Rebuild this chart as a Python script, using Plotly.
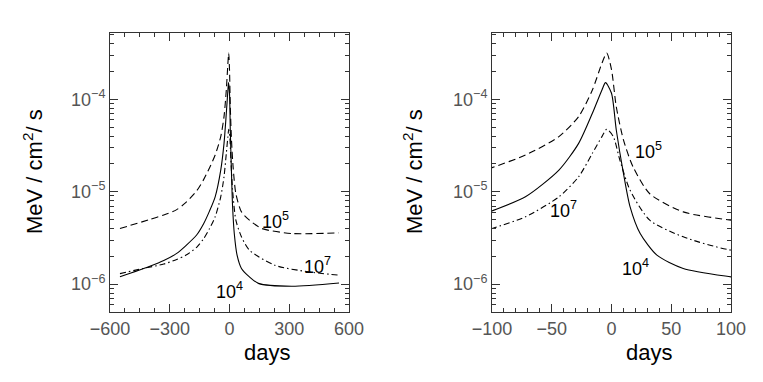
import numpy as np
import plotly.graph_objects as go

# ---- data ----
days_1e5 = [-550, -400, -330, -265, -220, -165, -130, -100, -72, -44, -27.5, -16, -8, -4, 0, 4, 10, 18, 32, 60, 100, 162, 313, 550]
flux_1e5 = [4.0e-6, 5.0e-6, 5.6e-6, 6.4e-6, 7.6e-6, 1.02e-5, 1.35e-5, 1.82e-5, 2.49e-5, 3.94e-5, 6.49e-5, 1.26e-4,
            2.45e-4, 3.16e-4, 2.09e-4, 8.3e-5, 3.63e-5, 1.86e-5, 9.5e-6, 6.05e-6, 4.92e-6, 4.0e-6, 3.53e-6, 3.59e-6]

days_1e4 = [-550, -400, -330, -265, -220, -165, -130, -100, -72, -44, -27.5, -16, -8, -5, 0, 4, 10, 15.5, 24, 38, 60, 100, 145, 312, 550]
flux_1e4 = [1.2e-6, 1.56e-6, 1.8e-6, 2.15e-6, 2.6e-6, 3.4e-6, 4.5e-6, 6.2e-6, 8.8e-6, 1.71e-5, 3.33e-5, 7.05e-5,
            1.26e-4, 1.51e-4, 1.16e-4, 4.65e-5, 1.58e-5, 6.9e-6, 3.53e-6, 2.06e-6, 1.48e-6, 1.2e-6, 1.02e-6, 9.5e-7, 1.03e-6]

days_1e7 = [-550, -433, -330, -265, -220, -165, -130, -100, -72, -44, -27.5, -16, -8, -4, 1.5, 7, 15.5, 32, 60, 100, 228, 396, 550]
flux_1e7 = [1.3e-6, 1.48e-6, 1.65e-6, 1.85e-6, 2.05e-6, 2.5e-6, 3.1e-6, 4.0e-6, 5.35e-6, 8.8e-6, 1.45e-5, 2.6e-5,
            3.94e-5, 4.73e-5, 3.94e-5, 2.2e-5, 1.04e-5, 4.92e-6, 3.25e-6, 2.33e-6, 1.6e-6, 1.36e-6, 1.25e-6]

ytick_vals = [1e-6, 1e-5, 1e-4]
ytick_text = ["10<sup>\u22126</sup>", "10<sup>\u22125</sup>", "10<sup>\u22124</sup>"]
xtick_left = [-600, -300, 0, 300, 600]
xtick_right = [-100, -50, 0, 50, 100]

# curve labels: (text, day, flux) per panel
labels_left = [("10<sup>5</sup>", 232, 4.9e-6), ("10<sup>7</sup>", 440, 1.6e-6), ("10<sup>4</sup>", 2, 8.6e-7)]
labels_right = [("10<sup>5</sup>", 31, 2.8e-5), ("10<sup>7</sup>", -40, 6.4e-6), ("10<sup>4</sup>", 20, 1.5e-6)]

series = [
    (days_1e4, flux_1e4, "solid"),
    (days_1e5, flux_1e5, "7px,4px"),
    (days_1e7, flux_1e7, "6px,3px,1.5px,3px"),
]

W, H = 763, 382
fig = go.Figure()

for ax in ["1", "2"]:
    xa = "x" if ax == "1" else "x2"
    ya = "y" if ax == "1" else "y2"
    for d, f, dash in series:
        fig.add_trace(go.Scatter(x=d, y=f, mode="lines", xaxis=xa, yaxis=ya,
                                 line=dict(color="black", width=1.1, dash=dash, shape="spline", smoothing=0.7),
                                 showlegend=False, hoverinfo="skip"))

tickfont = dict(family="Liberation Sans, Arial", size=18, color="#555555")
common_axis = dict(showline=True, linecolor="#333333", linewidth=1, mirror="allticks",
                   ticks="inside", ticklen=8, tickcolor="#333333", showgrid=False, zeroline=False,
                   tickfont=tickfont, automargin=False)

yd = [1 - 312 / H, 1 - 33 / H]
yr = [np.log10(5e-7), np.log10(5.2e-4)]
fig.update_layout(
    width=W, height=H, margin=dict(l=0, r=0, t=0, b=0),
    paper_bgcolor="white", plot_bgcolor="white",
    xaxis=dict(domain=[110 / W, 349 / W], range=[-600, 600], tickvals=xtick_left,
               ticktext=[str(v).replace("-", "\u2212") for v in xtick_left],
               minor=dict(ticks="inside", ticklen=4, dtick=75, tickcolor="#333333"), anchor="y", **common_axis),
    yaxis=dict(domain=yd, type="log", range=yr, tickvals=ytick_vals,
               ticktext=ytick_text, minor=dict(ticks="inside", ticklen=4, dtick="D1", tickcolor="#333333"),
               anchor="x", **common_axis),
    xaxis2=dict(domain=[492 / W, 731 / W], range=[-100, 100], tickvals=xtick_right,
                ticktext=[str(v).replace("-", "\u2212") for v in xtick_right],
                minor=dict(ticks="inside", ticklen=4, dtick=10, tickcolor="#333333"), anchor="y2", **common_axis),
    yaxis2=dict(domain=yd, type="log", range=yr, tickvals=ytick_vals,
                ticktext=ytick_text, minor=dict(ticks="inside", ticklen=4, dtick="D1", tickcolor="#333333"),
                anchor="x2", **common_axis),
)

titlefont = dict(family="Liberation Sans, Arial", size=22, color="black")
ann = []
for xc in [33, 413]:
    ann.append(dict(text="MeV / cm<sup>2</sup>/ s", x=xc / W, y=1 - 172 / H, xref="paper", yref="paper",
                    textangle=-90, showarrow=False, font=titlefont, xanchor="center", yanchor="middle"))
for xc in [267, 649]:
    ann.append(dict(text="days", x=xc / W, y=1 - 352 / H, xref="paper", yref="paper",
                    showarrow=False, font=titlefont, xanchor="center", yanchor="middle"))
labfont = dict(family="Liberation Sans, Arial", size=18, color="black")
for labs, xr, yrf in [(labels_left, "x", "y"), (labels_right, "x2", "y2")]:
    for t, d, f in labs:
        ann.append(dict(text=t, x=d, y=np.log10(f), xref=xr, yref=yrf, showarrow=False, font=labfont,
                        xanchor="center", yanchor="middle"))
fig.update_layout(annotations=ann)

fig.write_html("out.html", config={"displayModeBar": False},
               post_script="document.body.style.margin='0px';document.body.style.overflow='hidden';")
